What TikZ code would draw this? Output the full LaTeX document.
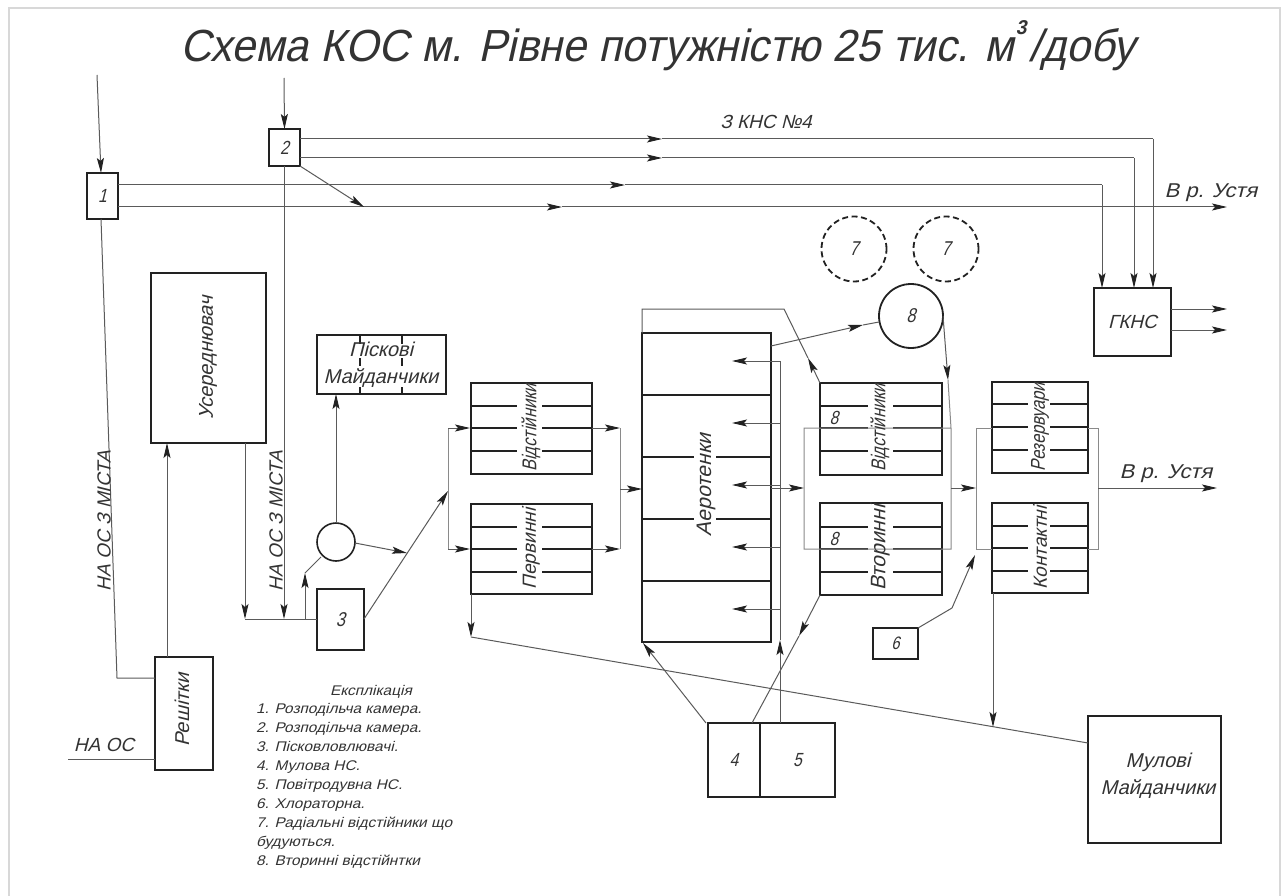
\documentclass[tikz,border=0pt]{standalone}
\usepackage{fontspec}
\usetikzlibrary{arrows.meta,calc}
\newfontfamily\gost[FakeSlant=0.25,FakeStretch=0.82]{Liberation Sans}
\newfontfamily\gostm[FakeSlant=0.25,FakeStretch=1.0]{Liberation Sans}
\newfontfamily\gostt[FakeSlant=0.22,FakeStretch=0.95]{Liberation Sans}
\newfontfamily\gostw[FakeSlant=0.25,FakeStretch=1.1]{Liberation Sans}
\definecolor{ink}{HTML}{222222}
\definecolor{thinc}{HTML}{5A5A5A}
\definecolor{lightc}{HTML}{8A8A8A}
\definecolor{txtc}{HTML}{333333}
\definecolor{framec}{HTML}{D8D8D8}
\tikzset{
  heavy/.style={draw=ink,line width=2.1pt},
  boxn/.style={heavy,inner sep=0pt,outer sep=0pt,fill=none},
  conn/.style={draw=thinc,line width=1pt},
  brk/.style={draw=lightc,line width=1pt},
  arr/.style={conn,-{Stealth[length=15pt,width=7pt,inset=3pt,color=ink]}},
  lbl/.style={text=txtc,inner sep=0pt,outer sep=0pt},
  expl/.style={lbl,font=\gostw\fs{14},anchor=base west},
}
\newcommand{\bx}[6][]{%
  \pgfmathsetmacro{\myw}{#5-#3}\pgfmathsetmacro{\myh}{#6-#4}%
  \pgfmathsetmacro{\mycx}{(#3+#5)/2}\pgfmathsetmacro{\mycy}{(#4+#6)/2}%
  \node[boxn,minimum width=\myw pt,minimum height=\myh pt] (#2) at (\mycx,\mycy) {#1};}
\newcommand{\tank}[8]{%
  \bx{#1}{#2}{#3}{#4}{#5}%
  \foreach \ly in {#6} {\draw[heavy] (#2,\ly) -- (#7,\ly) (#8,\ly) -- (#4,\ly);}}
\newcommand{\fs}[1]{\fontsize{#1}{#1}\selectfont}
\begin{document}
\begin{tikzpicture}[x=1pt,y=-1pt]
\useasboundingbox (0,0) rectangle (1285,896);
\fill[white] (0,0) rectangle (1285,896);
\draw[framec,line width=1.6pt] (9,896) -- (9,8) -- (1280,8) -- (1280,896);
% title
\node[lbl,anchor=base west] (title) at (180,62) {\gostt\fs{45}Схема КОС м. Рівне потужністю 25 тис. м\hspace{2pt}\raisebox{27pt}{\fs{20}\bfseries 3}\hspace{3pt}/добу};
% small boxes
\bx[\gost\fs{19}\color{txtc}1]{b1}{87}{173}{118}{219}
\bx[\gost\fs{19}\color{txtc}2]{b2}{269}{129}{300}{166}
\bx[\gost\fs{20}\color{txtc}3]{b3}{317}{589}{364}{650}
\bx[\gost\fs{18}\color{txtc}6]{b6}{873}{628}{918}{659}
\bx[\gostm\fs{19}\color{txtc}ГКНС]{gkns}{1094}{288}{1171}{356}
\bx{useredn}{151}{273}{266}{443}
\bx{resh}{155}{657}{213}{770}
\bx{pisk}{317}{335}{446}{394}
\bx{mul}{1088}{716}{1221}{843}
\bx[\gost\fs{19}\color{txtc}4]{b4}{708}{723}{760}{797}
\bx[\gost\fs{19}\color{txtc}5]{b5}{760}{723}{835}{797}
% piskovi ticks
\foreach \tx in {360,402}{\draw[heavy,line width=1.4pt] (\tx,335)--(\tx,344) (\tx,358)--(\tx,366) (\tx,387)--(\tx,394);}
% circles
\node[draw=ink,line width=1.6pt,circle,minimum size=38pt,inner sep=0pt,outer sep=0pt] (cg) at (336,542) {};
\node[draw=ink,line width=1.8pt,circle,minimum size=64pt,inner sep=0pt,outer sep=0pt] (c8) at (911,316) {\gost\fs{20}\color{txtc}8};
\node[draw=ink,line width=1.8pt,dash pattern=on 6pt off 3.5pt,circle,minimum size=65pt,inner sep=0pt,outer sep=0pt] (c7a) at (854,249) {\gost\fs{20}\color{txtc}7};
\node[draw=ink,line width=1.8pt,dash pattern=on 6pt off 3.5pt,circle,minimum size=65pt,inner sep=0pt,outer sep=0pt] (c7b) at (946,249) {\gost\fs{20}\color{txtc}7};
% tanks
\tank{pv}{471}{383}{592}{474}{406,428,451}{517}{542}
\tank{pp}{471}{504}{592}{594}{527,549,572}{517}{542}
\tank{sv}{820}{383}{942}{475}{406,428,451}{868}{893}
\tank{sp}{820}{503}{942}{595}{527,549,572}{868}{893}
\tank{rz}{992}{382}{1088}{473}{404,427,450}{1028}{1050}
\tank{kt}{992}{503}{1088}{593}{526,548,571}{1028}{1050}
\bx{aero}{642}{333}{771}{642}
\draw[heavy] (642,395)--(771,395) (642,581)--(771,581);
\foreach \ly in {457,519}{\draw[heavy] (642,\ly)--(694,\ly) (716,\ly)--(771,\ly);}
% coordinates
\coordinate (in1) at (97,75);
\coordinate (in1t) at (101,173);
\coordinate (in2) at (284,78);
\coordinate (b1a) at (118,185); \coordinate (b1b) at (118,207);
\coordinate (b2a) at (300,139); \coordinate (b2b) at (300,158);
\coordinate (b2c) at (300,166); \coordinate (j1) at (364,207);
\coordinate (g1) at (1102,288); \coordinate (g2) at (1134,288); \coordinate (g3) at (1153,288);
\coordinate (g1c) at (1102,185); \coordinate (g2c) at (1134,158); \coordinate (g3c) at (1153,139);
\coordinate (m1) at (625,185); \coordinate (m2) at (562,207); \coordinate (m3) at (662,158); \coordinate (m4) at (662,139);
\coordinate (riv1) at (1227,207);
\coordinate (go1) at (1171,309); \coordinate (go2) at (1171,330);
\coordinate (ge1) at (1227,309); \coordinate (ge2) at (1227,330);
\coordinate (b2s) at (284,166); \coordinate (j2) at (284,619); \coordinate (j3) at (245,619); \coordinate (j4) at (305,619);
\coordinate (b3w) at (317,619); \coordinate (b1s) at (101,219);
\coordinate (r1) at (117,678); \coordinate (r2) at (155,678);
\coordinate (nos) at (68,759); \coordinate (nor) at (155,759);
\coordinate (rt) at (167,657); \coordinate (ub) at (167,443);
\coordinate (us) at (245,443);
\coordinate (v1) at (305,573);
\coordinate (v2) at (321,557);
\coordinate (ctop) at (336,523); \coordinate (pbot) at (336,394);
\coordinate (ce) at (355,543); \coordinate (j5) at (407,553);
\coordinate (b3e) at (364,619); \coordinate (j6) at (448,491);
\coordinate (l1) at (448,428); \coordinate (l2) at (448,549);
\coordinate (lt1) at (470,428); \coordinate (lt2) at (470,549);
\coordinate (p1) at (592,428); \coordinate (p2) at (592,549);
\coordinate (q1) at (620,428); \coordinate (q2) at (620,549);
\coordinate (q3) at (620,489); \coordinate (q4) at (642,489);
\coordinate (a1) at (642,333); \coordinate (a2) at (642,309); \coordinate (a3) at (784,309);
\coordinate (a4) at (808,358); \coordinate (a5) at (820,383);
\coordinate (a6) at (771,346); \coordinate (a7) at (863,325); \coordinate (a8) at (879,322);
\coordinate (c1) at (943,316); \coordinate (c2) at (948,380); \coordinate (c3) at (951,428);
\coordinate (s1) at (804,428); \coordinate (s2) at (804,549); \coordinate (s3) at (951,549);
\coordinate (s4) at (771,488); \coordinate (s5) at (804,488);
\coordinate (s6) at (951,488); \coordinate (s7) at (976,488);
\coordinate (t1) at (976,428); \coordinate (t2) at (976,549);
\coordinate (t3) at (1098,428); \coordinate (t4) at (1098,549);
\coordinate (t5) at (1098,488); \coordinate (t6) at (1217,488);
\coordinate (t7) at (992,428); \coordinate (t8) at (992,549);
\coordinate (t9) at (1088,428); \coordinate (t10) at (1088,549);
\coordinate (x1) at (780,723); \coordinate (x2) at (780,640); \coordinate (x3) at (780,361);
\coordinate (d1) at (706,723); \coordinate (d2) at (643,643);
\coordinate (e1) at (752,723); \coordinate (e2) at (799,636); \coordinate (e3) at (820,595);
\coordinate (h1) at (918,628); \coordinate (h2) at (952,608); \coordinate (h3) at (975,555);
\coordinate (o1) at (471,594); \coordinate (o2) at (471,637); \coordinate (o3) at (1088,743);
\coordinate (k1) at (993,593); \coordinate (k2) at (993,727);
% connectors
\draw[arr] (in1) -- (in1t);
\draw[arr] (in2) -- (b2.north);
\draw[arr] (b1a) -- (m1);
\draw[conn] (m1) -- (g1c);
\draw[arr] (b1b) -- (m2);
\draw[arr] (m2) -- (riv1);
\draw[arr] (b2b) -- (m3);
\draw[conn] (m3) -- (g2c);
\draw[arr] (b2a) -- (m4);
\draw[conn] (m4) -- (g3c);
\draw[arr] (g1c) -- (g1);
\draw[arr] (g2c) -- (g2);
\draw[arr] (g3c) -- (g3);
\draw[arr] (go1) -- (ge1);
\draw[arr] (go2) -- (ge2);
\draw[arr] (b2c) -- (j1);
\draw[arr] (b2s) -- (j2);
\draw[conn] (b1s) -- (r1) -- (r2);
\draw[conn] (nos) -- (nor);
\draw[arr] (rt) -- (ub);
\draw[arr] (us) -- (j3);
\draw[conn] (j3) -- (b3w);
\draw[arr] (j4) -- (v1);
\draw[conn] (v1) -- (v2);
\draw[arr] (ctop) -- (pbot);
\draw[arr] (ce) -- (j5);
\draw[arr] (b3e) -- (j6);
\draw[brk] (l1) -- (l2);
\draw[arr] (l1) -- (lt1);
\draw[arr] (l2) -- (lt2);
\draw[arr] (p1) -- (q1);
\draw[arr] (p2) -- (q2);
\draw[brk] (q1) -- (q2);
\draw[arr] (q3) -- (q4);
\draw[conn] (a1) -- (a2) -- (a3) -- (a4);
\draw[arr] (a5) -- (a4);
\draw[arr] (a6) -- (a7);
\draw[conn] (a7) -- (a8);
\draw[brk] (c2) -- (c3) -- (s3) -- (s2) -- (s1) -- (c3);
\draw[arr] (c1) -- (c2);
\draw[arr] (s4) -- (s5);
\draw[arr] (s6) -- (s7);
\draw[brk] (t7) -- (t1) -- (t2) -- (t8);
\draw[brk] (t9) -- (t3) -- (t4) -- (t10);
\draw[arr] (t5) -- (t6);
\draw[arr] (x1) -- (x2);
\draw[conn] (x2) -- (x3);
\foreach \ya in {361,423,485,547,609}{
  \coordinate (xx) at (780,\ya); \coordinate (xt) at (732,\ya);
  \draw[arr] (xx) -- (xt);
}
\draw[arr] (d1) -- (d2);
\draw[conn] (e1) -- (e2);
\draw[arr] (e3) -- (e2);
\draw[conn] (h1) -- (h2);
\draw[arr] (h2) -- (h3);
\draw[arr] (o1) -- (o2);
\draw[conn] (o2) -- (o3);
\draw[arr] (k1) -- (k2);
% labels
\node[lbl,font=\gostm\fs{19}] (tkns) at (766,122) {З КНС №4};
\node[lbl,font=\gostw\fs{20}] (triv1) at (1211,193) {В р. Устя};
\node[lbl,font=\gostw\fs{20}] (triv2) at (1166,474) {В р. Устя};
\node[lbl,font=\gostm\fs{19},rotate=90] (tm1) at (104,521) {НА ОС З МІСТА};
\node[lbl,font=\gostm\fs{19},rotate=90] (tm2) at (276,521) {НА ОС З МІСТА};
\node[lbl,font=\gostm\fs{19}] (tos) at (104,745) {НА ОС};
\node[lbl,font=\gostm\fs{20},rotate=90] (tus) at (208,358) {Усереднювач};
\node[lbl,font=\gostm\fs{20},rotate=90] (tre) at (182,710) {Решітки};
\node[lbl,font=\gostm\fs{20},align=center] (tpi) at (381,365) {Піскові\\[7pt]Майданчики};
\node[lbl,font=\gost\fs{20},rotate=90] (tp1) at (531,428) {Відстійники};
\node[lbl,font=\gostm\fs{19},rotate=90] (tp2) at (531,549) {Первинні};
\node[lbl,font=\gostm\fs{21},rotate=90] (tae) at (706,485) {Аеротенки};
\node[lbl,font=\gost\fs{20},rotate=90] (ts1) at (880,428) {Відстійники};
\node[lbl,font=\gostm\fs{21},rotate=90] (ts2) at (880,548) {Вторинні};
\node[lbl,font=\gost\fs{20},rotate=90] (tr1) at (1040,427) {Резервуари};
\node[lbl,font=\gostm\fs{19},rotate=90] (tr2) at (1040,548) {Контактні};
\node[lbl,font=\gost\fs{19}] (t8a) at (834,418) {8};
\node[lbl,font=\gost\fs{19}] (t8b) at (834,539) {8};
\node[lbl,font=\gostm\fs{20},align=center] (tmu) at (1158,776) {Мулові\\[7pt]Майданчики};
% explication
\node[expl] (ex0) at (330,695) {Експлікація};
\node[expl] (ex1) at (256,713) {1. Розподільча камера.};
\node[expl] (ex2) at (256,732) {2. Розподільча камера.};
\node[expl] (ex3) at (256,751) {3. Пісковловлювачі.};
\node[expl] (ex4) at (256,770) {4. Мулова НС.};
\node[expl] (ex5) at (256,789) {5. Повітродувна НС.};
\node[expl] (ex6) at (256,808) {6. Хлораторна.};
\node[expl] (ex7) at (256,827) {7. Радіальні відстійники що};
\node[expl] (ex7b) at (256,846) {будуються.};
\node[expl] (ex8) at (256,865) {8. Вторинні відстійнтки};
\end{tikzpicture}
\end{document}
